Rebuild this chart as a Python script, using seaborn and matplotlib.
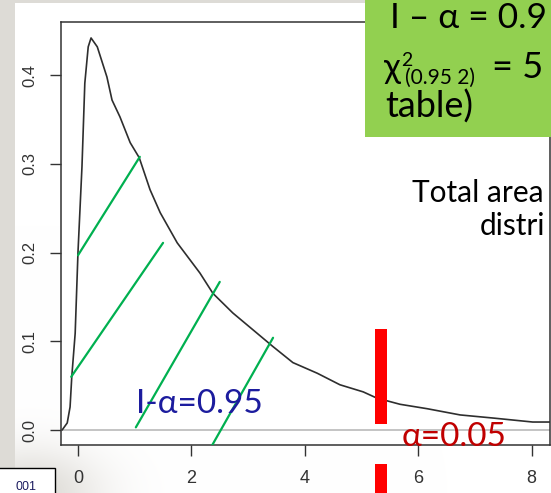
import numpy as np
import pandas as pd
import matplotlib
matplotlib.use("Agg")
import matplotlib.pyplot as plt
from matplotlib.patches import Rectangle
import seaborn as sns

# Estimated density of a chi-square(2) sample
curve_x = [-0.28, -0.19, -0.14, -0.11, -0.05, 0.0, 0.07, 0.12, 0.18, 0.23, 0.34,
           0.51, 0.60, 0.74, 0.92, 1.08, 1.27, 1.45, 1.75, 2.15, 2.38, 2.73, 3.16,
           3.44, 3.79, 4.22, 4.62, 5.03, 5.27, 5.68, 6.16, 6.74, 7.32, 8.02, 8.32]
curve_y = [0.0, 0.008, 0.026, 0.060, 0.109, 0.201, 0.297, 0.391, 0.432, 0.442, 0.432,
           0.398, 0.372, 0.353, 0.324, 0.307, 0.271, 0.245, 0.211, 0.177, 0.154, 0.132, 0.109,
           0.094, 0.076, 0.064, 0.051, 0.043, 0.036, 0.029, 0.024, 0.017, 0.0135, 0.009, 0.009]

# Hatch strokes marking the 1-alpha region
hatch_x0 = [0.00, -0.12, 1.02, 2.35]
hatch_y0 = [0.197, 0.060, 0.003, -0.019]
hatch_x1 = [1.09, 1.50, 2.50, 3.44]
hatch_y1 = [0.308, 0.211, 0.167, 0.104]

# Critical value marker
crit_x = 5.34
crit_lo, crit_hi = 0.007, 0.114

x_ticks = [0, 2, 4, 6, 8]
y_ticks = [0.0, 0.1, 0.2, 0.3, 0.4]
y_tick_labels = ["0.0", "0.1", "0.2", "0.3", "0.4"]

sns.set_theme(style="white")
plt.rcParams["font.family"] = ["Liberation Sans", "DejaVu Sans"]

W, H = 551, 493
fig = plt.figure(figsize=(W / 100, H / 100), dpi=100)
fig.patch.set_facecolor("white")

# slide backdrop: grey margins and soft shadow at the lower left
bg = fig.add_axes([0, 0, 1, 1], zorder=-10)
yy, xx = np.mgrid[0:H, 0:W]
grey = np.array([0.87, 0.86, 0.84])
a = np.zeros((H, W))
a[:, :15] = 1.0
a[:3, :] = 1.0
blob = np.exp(-(((xx - 30) / 70.0) ** 2 + ((yy - 493) / 45.0) ** 2))
a = np.maximum(a, np.where((yy > 445) | (xx < 61), blob, 0))
img = 1 - a[..., None] * (1 - grey[None, None, :])
bg.imshow(img, extent=[0, W, H, 0], aspect="auto", interpolation="bilinear")
bg.axis("off")

# main plot panel
L, R, T, B = 61, 550, 22, 445
ax = fig.add_axes([L / W, (H - B) / H, (R - L) / W, (B - T) / H], zorder=1)
ax.set_facecolor("white")

df = pd.DataFrame({"x": curve_x, "density": curve_y})
ax.axhline(0, color="#bfbfbf", lw=1.3, zorder=1)
sns.lineplot(data=df, x="x", y="density", color="#2e2e2e", lw=1.2, ax=ax,
             sort=False, zorder=3)

for x0, y0, x1, y1 in zip(hatch_x0, hatch_y0, hatch_x1, hatch_y1):
    ax.plot([x0, x1], [y0, y1], color="#00B050", lw=1.6, zorder=4)

bar_w = 0.21
ax.add_patch(Rectangle((crit_x - bar_w / 2, crit_lo), bar_w, crit_hi - crit_lo,
                       color="#FF0000", lw=0, zorder=5))
ax.add_patch(Rectangle((crit_x - bar_w / 2, -0.072), bar_w, 0.034,
                       color="#FF0000", lw=0, zorder=5, clip_on=False))

ax.set_xlim(-0.30, 8.325)
ax.set_ylim(-0.0169, 0.460)
ax.set_xticks(x_ticks)
ax.set_xticklabels([str(t) for t in x_ticks], fontsize=13, color="#333333")
ax.set_yticks(y_ticks)
ax.set_yticklabels(y_tick_labels, fontsize=12, color="#333333", rotation=90, va="center")
ax.tick_params(axis="both", direction="out", length=8, width=1, color="#333333",
               bottom=True, left=True)
ax.tick_params(axis="x", pad=10)
ax.tick_params(axis="y", pad=9)
ax.set_xlabel("")
ax.set_ylabel("")
for s in ax.spines.values():
    s.set_visible(True)
    s.set_color("#333333")
    s.set_linewidth(1.1)

sans = ["Lato", "DejaVu Sans"]

# overlay in pixel coordinates
ov = fig.add_axes([0, 0, 1, 1], zorder=10)
ov.set_xlim(0, W)
ov.set_ylim(H, 0)
ov.axis("off")
ov.patch.set_alpha(0)

ov.text(412, 202, "Total area", fontsize=21.5, family=sans, color="black",
        va="baseline", ha="left")
ov.text(480, 235, "distri", fontsize=21.5, family=sans, color="black",
        va="baseline", ha="left")

ov.text(136, 413, "I-α=0.95", fontsize=24, family=sans, color="#1c1c9e",
        va="baseline", ha="left")
ov.text(402, 446, "α=0.05", fontsize=24, family=sans, color="#C00000",
        va="baseline", ha="left")

ov.add_patch(Rectangle((365, 0), 200, 137, color="#92D050", lw=0))
ov.text(390, 28, "I – α = 0.9", fontsize=25.5, family=sans, color="black",
        va="baseline", ha="left")
ov.text(384, 78, "χ", fontsize=25, family=sans, color="black", va="baseline", ha="left")
ov.text(401, 66, "2", fontsize=14, family=sans, color="black", va="baseline", ha="left")
ov.text(405, 84, "(0.95 2)", fontsize=15, family=sans, color="black",
        va="baseline", ha="left")
ov.text(492, 78, "= 5", fontsize=26, family=sans, color="black",
        va="baseline", ha="left")
ov.text(385, 118, "table)", fontsize=26, family=sans, color="black",
        va="baseline", ha="left")

# small page-number box at the lower left
ov.add_patch(Rectangle((-5, 468), 60, 40, facecolor="white", edgecolor="black", lw=1))
ov.text(26, 490, "001", fontsize=9, color="#1a1a5e", ha="center", va="baseline")

fig.savefig("out.png", dpi=100)
